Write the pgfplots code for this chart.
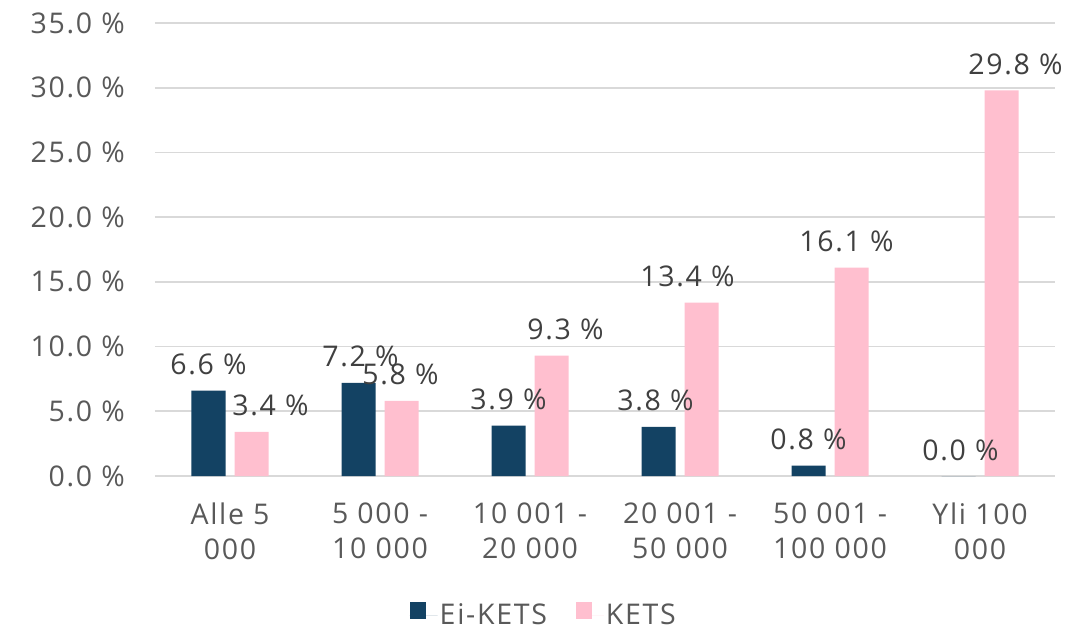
\documentclass[border=0pt]{standalone}
\usepackage{fontspec}
\setmainfont{Open Sans}[LetterSpace=6]
\usepackage{pgfplots}
\usepackage{pgfplotstable}
\pgfplotsset{compat=1.18}
\definecolor{navy}{HTML}{134263}
\definecolor{pinkb}{HTML}{FFBFCF}
\definecolor{gridc}{HTML}{D9D9D9}
\definecolor{tickc}{HTML}{595959}
\definecolor{labc}{HTML}{404040}
\newcommand{\cf}{\fontsize{28.5}{35}\selectfont}
\pgfplotstableread{
x navy pink dxn dxp
0 6.6 3.4 0 19
1 7.2 5.8 2 -1
2 3.9 9.3 0 14
3 3.8 13.4 -3 -14
4 0.8 16.1 0 -5
5 0.0 29.8 2 14
}\datatab
\begin{document}
\begin{tikzpicture}
\path[use as bounding box] (0,0) rectangle (1077pt,630pt);
\begin{axis}[
  at={(155pt,154pt)}, anchor=south west,
  scale only axis, width=900pt, height=453pt,
  xmin=-0.5, xmax=5.5, ymin=0, ymax=35,
  ytick={0,5,...,35},
  xtick={0,...,5},
  xticklabels={{Alle 5\\000},{5 000 -\\10 000},{10 001 -\\20 000},{20 001 -\\50 000},{50 001 -\\100 000},{Yli 100\\000}},
  xticklabel style={align=center, font=\cf, text=tickc, inner sep=0pt, yshift=-27pt},
  yticklabel style={font=\cf, text=tickc, inner sep=0pt, xshift=-30pt},
  /pgf/number format/assume math mode=true,
  yticklabel={\pgfmathprintnumber[fixed, fixed zerofill, precision=1]{\tick}\ \%},
  major tick length=0pt,
  axis line style={draw=none},
  ymajorgrids, grid style={gridc, line width=1.8pt},
  ybar, bar width=34pt,
  nodes near coords={\pgfmathprintnumber[fixed, fixed zerofill, precision=1]{\pgfplotspointmeta}\ \%},
  legend style={at={(0.432,-0.307)}, anchor=center, draw=none, font=\cf, text=tickc,
    legend columns=2,
    /tikz/every even column/.append style={column sep=27pt}},
  legend image code/.code={\path[#1, draw=none] (0pt,-4pt) rectangle (16pt,13pt);
    \path (0pt,0pt) -- (28pt,0pt);},
  clip=false,
]
\addplot[fill=navy, draw=none, bar shift=-21.5pt,
  visualization depends on={\thisrow{dxn} \as \dx},
  every node near coord/.append style={anchor=base, yshift=16pt, xshift=\dx pt, font=\cf, text=labc, inner sep=0pt}]
  table[x=x, y=navy] {\datatab};
\addlegendentry{Ei-KETS}
\addplot[fill=pinkb, draw=none, bar shift=21.5pt,
  visualization depends on={\thisrow{dxp} \as \dx},
  every node near coord/.append style={anchor=base, yshift=16pt, xshift=\dx pt, font=\cf, text=labc, inner sep=0pt}]
  table[x=x, y=pink] {\datatab};
\addlegendentry{KETS}
\end{axis}
\end{tikzpicture}
\end{document}
